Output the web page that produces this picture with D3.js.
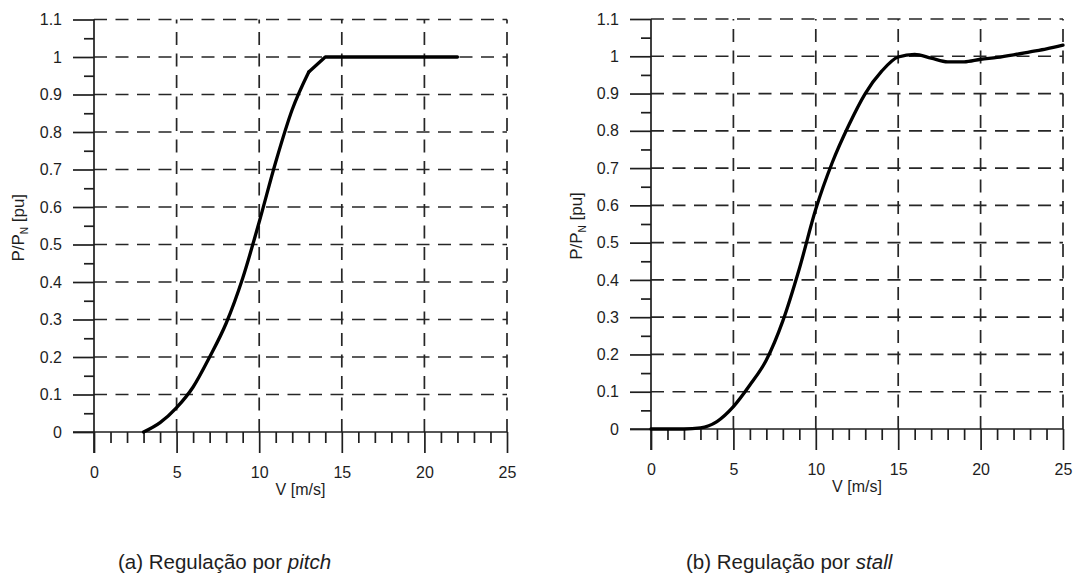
<!DOCTYPE html>
<html>
<head>
<meta charset="utf-8">
<script src="https://cdn.jsdelivr.net/npm/d3@7"></script>
<style>
body { margin: 0; background: #fff; }
text { font-family: "Liberation Sans", Arial, sans-serif; fill: #1e1e1e; }
</style>
</head>
<body>
<script>
// Power curves of a wind turbine, P/PN vs wind speed

// (a) pitch regulated
var pitchSpeed = [3, 4, 5, 6, 7, 8, 9, 10, 11, 12, 13, 14, 22];
var pitchPower = [0, 0.025, 0.065, 0.12, 0.2, 0.29, 0.41, 0.56, 0.72, 0.86, 0.96, 1.0, 1.0];
var pitchKnee = 13; // the curve turns into straight pieces from here on

// (b) stall regulated
var stallSpeed = [0, 1, 2, 3, 4, 5, 6, 7, 8, 9, 10, 11, 12, 13, 14, 15, 16, 17, 18, 19, 20, 21, 22, 23, 24, 25];
var stallPower = [0, 0, 0, 0.003, 0.02, 0.06, 0.118, 0.185, 0.29, 0.43, 0.59, 0.715, 0.815, 0.9, 0.96, 0.998,
                  1.005, 0.995, 0.985, 0.985, 0.992, 0.997, 1.004, 1.012, 1.02, 1.03];

// ticks
var xTicks = [0, 5, 10, 15, 20, 25];
var xMinor = [1, 2, 3, 4, 6, 7, 8, 9, 11, 12, 13, 14, 16, 17, 18, 19, 21, 22, 23, 24];
var yTicks = [0, 0.1, 0.2, 0.3, 0.4, 0.5, 0.6, 0.7, 0.8, 0.9, 1, 1.1];
var yMinor = [0.05, 0.15, 0.25, 0.35, 0.45, 0.55, 0.65, 0.75, 0.85, 0.95, 1.05];

// texts
var xTitle = "V [m/s]";
var captions = ["(a) Regulação por ", "(b) Regulação por "];
var captionItalic = ["pitch", "stall"];

var svg = d3.select("body").append("svg")
  .attr("width", 1075)
  .attr("height", 578);

var fmt = d3.format(".1~f");

function draw(o) {
  var x = d3.scaleLinear().domain([0, 25]).range([o.left, o.right]);
  var y = d3.scaleLinear().domain([0, 1.1]).range([o.bottom, o.top]);

  var g = svg.append("g");

  // dashed grid
  g.selectAll(".vgrid").data(xTicks.slice(1)).enter()
    .append("line")
    .attr("x1", function(d) { return x(d); })
    .attr("x2", function(d) { return x(d); })
    .attr("y1", y(0))
    .attr("y2", y(1.1))
    .attr("stroke", "#262626")
    .attr("stroke-width", 1.7)
    .attr("stroke-dasharray", "13,8.5");

  g.selectAll(".hgrid").data(yTicks.slice(1)).enter()
    .append("line")
    .attr("x1", x(0))
    .attr("x2", x(25))
    .attr("y1", function(d) { return y(d); })
    .attr("y2", function(d) { return y(d); })
    .attr("stroke", "#262626")
    .attr("stroke-width", 1.7)
    .attr("stroke-dasharray", "13,8.5");

  // x axis, major and minor ticks
  g.append("g")
    .attr("transform", "translate(0," + y(0) + ")")
    .call(d3.axisBottom(x).tickValues(xTicks).tickSize(21).tickPadding(14).tickFormat(d3.format("d")));
  g.append("g")
    .attr("transform", "translate(0," + y(0) + ")")
    .call(d3.axisBottom(x).tickValues(xMinor).tickSize(11).tickFormat(""));

  // y axis, major and minor ticks
  g.append("g")
    .attr("transform", "translate(" + x(0) + ",0)")
    .call(d3.axisLeft(y).tickValues(yTicks).tickSize(21).tickPadding(11).tickFormat(fmt));
  g.append("g")
    .attr("transform", "translate(" + x(0) + ",0)")
    .call(d3.axisLeft(y).tickValues(yMinor).tickSize(10).tickFormat(""));

  g.selectAll(".domain").remove();
  g.selectAll(".tick line").attr("stroke", "#1e1e1e").attr("stroke-width", 1.7);
  g.selectAll(".tick text").style("font-size", "16px").attr("fill", "#1e1e1e");

  // main axis lines
  g.append("line")
    .attr("x1", x(0) - 21).attr("x2", x(25))
    .attr("y1", y(0)).attr("y2", y(0))
    .attr("stroke", "#1e1e1e").attr("stroke-width", 1.7);
  g.append("line")
    .attr("x1", x(0)).attr("x2", x(0))
    .attr("y1", y(1.1)).attr("y2", y(0) + 21)
    .attr("stroke", "#1e1e1e").attr("stroke-width", 1.7);

  // curve: smooth part, then straight part after the knee
  var pts = o.xs.map(function(d, i) { return [d, o.ys[i]]; });
  var smooth = pts.filter(function(p) { return p[0] <= o.knee; });
  var straight = pts.filter(function(p) { return p[0] >= o.knee; });
  var smoothLine = d3.line()
    .x(function(d) { return x(d[0]); })
    .y(function(d) { return y(d[1]); })
    .curve(d3.curveMonotoneX);
  var straightLine = d3.line()
    .x(function(d) { return x(d[0]); })
    .y(function(d) { return y(d[1]); });
  [[smooth, smoothLine], [straight, straightLine]].forEach(function(s) {
    if (s[0].length < 2) return;
    g.append("path")
      .datum(s[0])
      .attr("d", s[1])
      .attr("fill", "none")
      .attr("stroke", "#000")
      .attr("stroke-width", 3.3)
      .attr("stroke-linejoin", "round")
      .attr("stroke-linecap", "round");
  });

  // axis titles
  g.append("text")
    .attr("x", (x(0) + x(25)) / 2)
    .attr("y", y(0) + 63)
    .attr("text-anchor", "middle")
    .style("font-size", "16px")
    .text(xTitle);

  var yt = g.append("text")
    .attr("transform", "translate(" + o.ytX + "," + (y(0.55) + 2) + ") rotate(-90)")
    .attr("text-anchor", "middle")
    .style("font-size", "17px");
  yt.append("tspan").text("P/P");
  yt.append("tspan").attr("dy", 4).style("font-size", "10px").text("N");
  yt.append("tspan").attr("dy", -4).text(" [pu]");

  // caption under the plot
  var cap = svg.append("text")
    .attr("x", o.capX)
    .attr("y", 569)
    .style("font-size", "20.5px");
  cap.append("tspan").text(captions[o.idx]);
  cap.append("tspan").style("font-style", "italic").text(captionItalic[o.idx]);
}

draw({ idx: 0, left: 94, right: 507, top: 19.5, bottom: 432, ytX: 24, capX: 118,
       xs: pitchSpeed, ys: pitchPower, knee: pitchKnee });
draw({ idx: 1, left: 651, right: 1063, top: 19, bottom: 429, ytX: 582, capX: 686,
       xs: stallSpeed, ys: stallPower, knee: 25 });
</script>
</body>
</html>
